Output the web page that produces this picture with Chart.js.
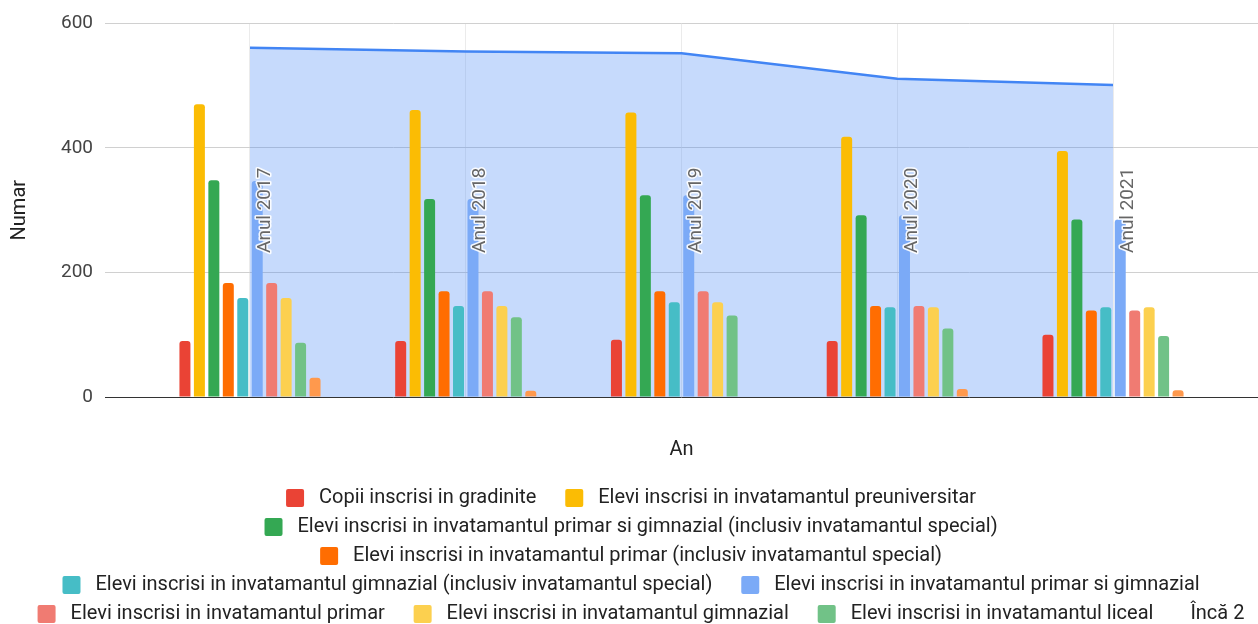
<!DOCTYPE html>
<html>
<head>
<meta charset="utf-8">
<script src="https://cdn.jsdelivr.net/npm/chart.js"></script>
<style>
  body { margin: 0; overflow: hidden; background: #fff; }
  #wrap { width: 1258px; height: 632px; }
</style>
</head>
<body>
<div id="wrap"><canvas id="myChart"></canvas></div>
<script>
const years = ['Anul 2017', 'Anul 2018', 'Anul 2019', 'Anul 2020', 'Anul 2021']

const copiiGradinite = [90, 90, 92, 90, 100]
const eleviPreuniversitar = [470, 461, 457, 418, 395]
const eleviPrimarGimnazialSpecial = [348, 318, 324, 292, 285]
const eleviPrimarSpecial = [183, 170, 170, 146, 139]
const eleviGimnazialSpecial = [159, 146, 152, 144, 144]
const eleviPrimarGimnazial = [347, 318, 324, 292, 285]
const eleviPrimar = [183, 170, 170, 146, 139]
const eleviGimnazial = [159, 146, 152, 144, 144]
const eleviLiceal = [87, 128, 131, 110, 98]
const eleviProfesional = [31, 10, null, 13, 11]
const totalCopiiElevi = [561, 555, 552, 511, 501]

const barSeries = [
    ['Copii inscrisi in gradinite', copiiGradinite, '#ea4335'],
    ['Elevi inscrisi in invatamantul preuniversitar', eleviPreuniversitar, '#fbbc04'],
    ['Elevi inscrisi in invatamantul primar si gimnazial (inclusiv invatamantul special)', eleviPrimarGimnazialSpecial, '#34a853'],
    ['Elevi inscrisi in invatamantul primar (inclusiv invatamantul special)', eleviPrimarSpecial, '#ff6d01'],
    ['Elevi inscrisi in invatamantul gimnazial (inclusiv invatamantul special)', eleviGimnazialSpecial, '#46bdc6'],
    ['Elevi inscrisi in invatamantul primar si gimnazial', eleviPrimarGimnazial, '#7baaf7'],
    ['Elevi inscrisi in invatamantul primar', eleviPrimar, '#f07b72'],
    ['Elevi inscrisi in invatamantul gimnazial', eleviGimnazial, '#fcd04f'],
    ['Elevi inscrisi in invatamantul liceal', eleviLiceal, '#71c287'],
    ['Elevi inscrisi in invatamantul profesional', eleviProfesional, '#ff994d']
]
const shownInLegend = 9

Chart.defaults.font.family = 'Roboto'

// year names drawn inside the plot, rotated, with a white halo
const yearLabels = {
    id: 'yearLabels',
    afterDatasetsDraw(chart){
        const ctx = chart.ctx
        const x = chart.scales.x
        const area = chart.chartArea
        ctx.save()
        ctx.font = '19px Roboto'
        ctx.textAlign = 'left'
        ctx.textBaseline = 'middle'
        ctx.lineJoin = 'round'
        years.forEach((label, i) => {
            ctx.save()
            ctx.translate(x.getPixelForValue(i) + 15, area.bottom - 144)
            ctx.rotate(-Math.PI / 2)
            ctx.strokeStyle = 'rgba(255,255,255,0.9)'
            ctx.lineWidth = 3
            ctx.strokeText(label, 0, 0)
            ctx.fillStyle = '#666'
            ctx.fillText(label, 0, 0)
            ctx.restore()
        })
        ctx.restore()
    }
}

// nudge the legend block a little right and down, like the original
const legendNudge = {
    id: 'legendNudge',
    afterLayout(chart){
        const lg = chart.legend
        lg.left += 12
        lg.right += 12
        lg.top += 2
        lg.bottom += 2
    }
}

const datasets = barSeries.map(s => ({
    label: s[0],
    data: s[1],
    backgroundColor: s[2],
    borderRadius: 3,
    order: 0
}))

datasets.push({
    type: 'line',
    label: 'Total copii si elevi',
    data: totalCopiiElevi,
    borderColor: '#4285f4',
    backgroundColor: 'rgba(66,133,244,0.3)',
    borderWidth: 2.5,
    fill: 'origin',
    pointRadius: 0,
    tension: 0,
    order: 1
})

new Chart('myChart', {
    type: 'bar',
    data: { labels: years, datasets: datasets },
    plugins: [yearLabels, legendNudge],
    options: {
        responsive: true,
        maintainAspectRatio: false,
        animation: false,
        layout: { padding: { top: 21, left: 0, right: 0, bottom: 0 } },
        datasets: { bar: { categoryPercentage: 0.67, barPercentage: 0.76 } },
        scales: {
            x: {
                offset: true,
                // categories sit further in than chart.js would put them
                afterBuildTicks(scale){
                    scale._startValue = -0.672
                    scale._valueRange = 5.344
                },
                afterFit(scale){ scale.height = 80 },
                ticks: { display: false },
                grid: { color: 'rgba(0,0,0,0.08)', drawTicks: false, offset: false },
                border: { display: false },
                title: { display: true, text: 'An', color: '#222', font: { size: 20 }, padding: { top: 41, bottom: 15 } }
            },
            y: {
                min: 0,
                max: 600,
                afterFit(scale){ scale.width = 105 },
                ticks: { stepSize: 200, color: '#444', font: { size: 19 }, padding: 12 },
                grid: {
                    color: c => c.tick.value === 0 ? '#333' : '#d0d0d0',
                    drawTicks: false
                },
                border: { display: false },
                title: { display: true, text: 'Numar', color: '#222', font: { size: 20 }, padding: { top: 8, bottom: 28 } }
            }
        },
        plugins: {
            tooltip: { enabled: false },
            legend: {
                position: 'bottom',
                labels: {
                    font: { size: 20 },
                    color: '#222',
                    boxWidth: 18,
                    boxHeight: 18,
                    padding: 9,
                    useBorderRadius: true,
                    borderRadius: 2,
                    generateLabels(chart){
                        const items = Chart.defaults.plugins.legend.labels.generateLabels(chart)
                            .filter(it => it.datasetIndex < shownInLegend)
                        items.forEach(it => {
                            it.text = ' ' + it.text + (it.datasetIndex < shownInLegend - 1 ? '    ' : '')
                        })
                        items.push({ text: 'Încă 2', fillStyle: 'rgba(0,0,0,0)', strokeStyle: 'rgba(0,0,0,0)', lineWidth: 0, hidden: false })
                        return items
                    }
                }
            }
        }
    }
})
</script>
</body>
</html>
